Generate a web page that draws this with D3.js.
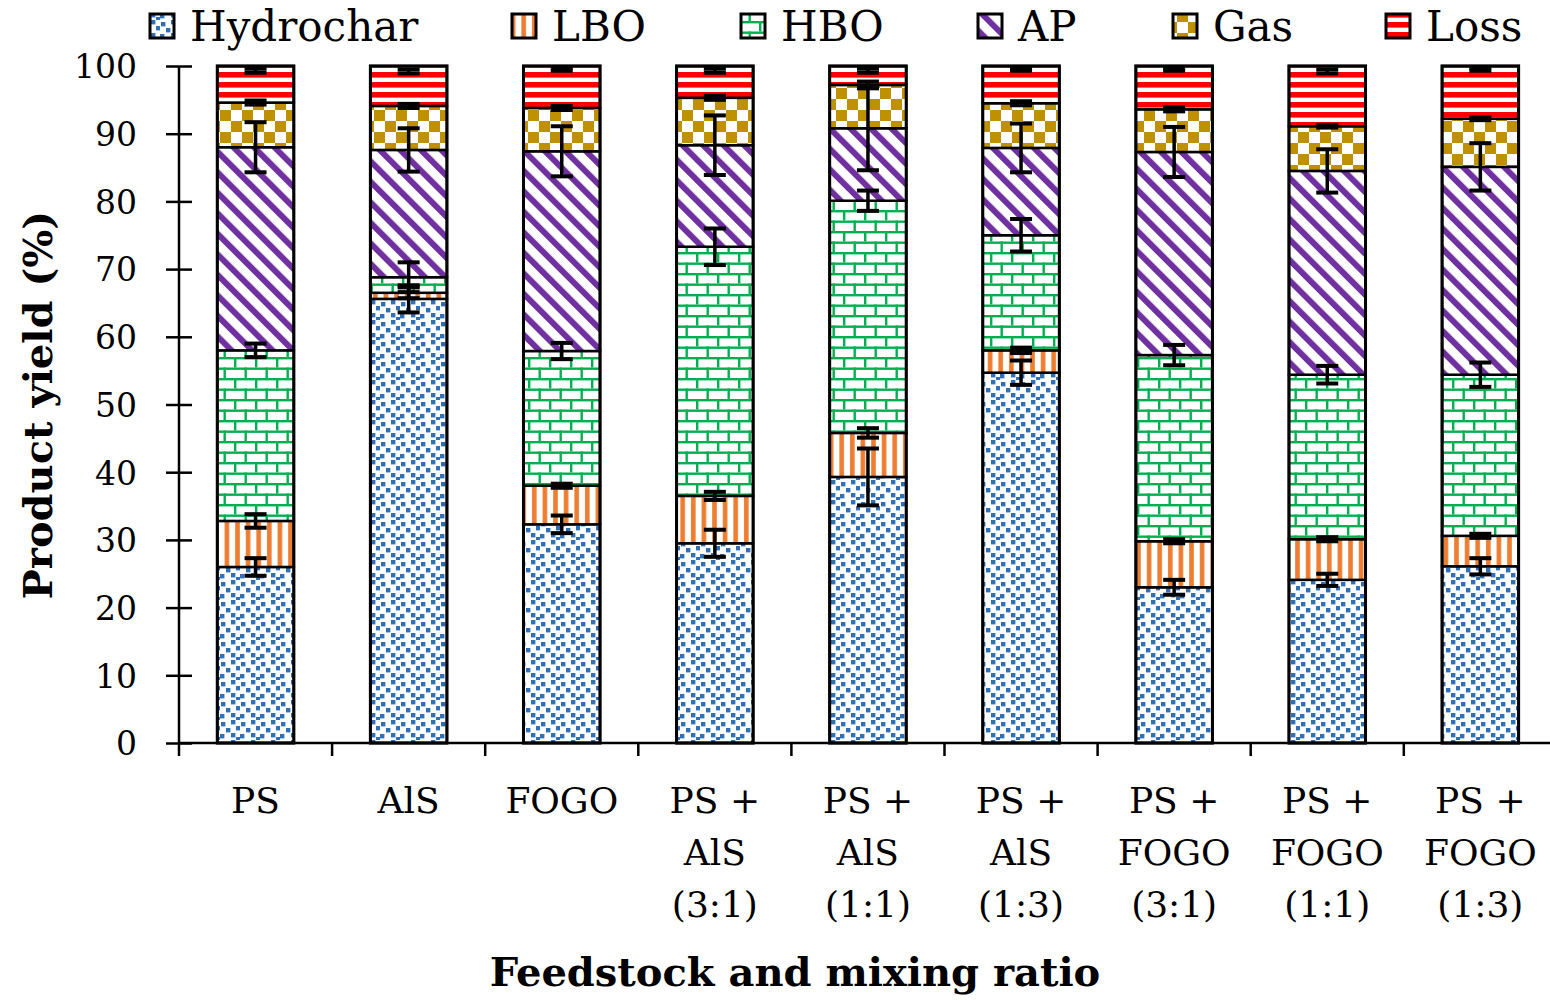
<!DOCTYPE html>
<html><head><meta charset="utf-8">
<script src="https://cdn.jsdelivr.net/npm/d3@7"></script>
<style>
html,body{margin:0;padding:0;background:#fff;}
text{font-family:"DejaVu Serif",serif;fill:#000;}
</style></head><body>
<svg id="chart" width="1550" height="1000"></svg>
<script>
const categories = [["PS"],["AlS"],["FOGO"],["PS +","AlS","(3:1)"],["PS +","AlS","(1:1)"],["PS +","AlS","(1:3)"],["PS +","FOGO","(3:1)"],["PS +","FOGO","(1:1)"],["PS +","FOGO","(1:3)"]];
const seriesNames = ["Hydrochar","LBO","HBO","AP","Gas","Loss"];
const hydrochar = [26.0, 65.6, 32.3, 29.5, 39.3, 54.7, 23.0, 24.1, 26.1];
const lbo       = [6.8, 0.9, 5.7, 7.0, 6.5, 3.3, 6.8, 6.0, 4.5];
const hbo       = [25.2, 2.3, 19.9, 36.8, 34.3, 17.0, 27.5, 24.3, 23.8];
const ap        = [30.0, 18.8, 29.5, 15.0, 10.7, 12.9, 30.0, 30.1, 30.7];
const gas       = [6.6, 6.5, 6.4, 7.0, 6.4, 6.6, 6.3, 6.6, 7.1];
const loss      = [5.4, 5.9, 6.2, 4.7, 2.8, 5.5, 6.4, 8.9, 7.8];
const errHydrochar = [1.3, 2.0, 1.3, 2.0, 4.2, 1.8, 1.1, 0.9, 1.2];
const errLbo       = [1.0, 0.8, 0.3, 0.6, 0.7, 0.4, 0.3, 0.3, 0.3];
const errHbo       = [1.0, 2.2, 1.2, 2.7, 1.5, 2.4, 1.5, 1.3, 1.8];
const errAp        = [3.7, 3.2, 3.7, 4.4, 6.2, 3.6, 3.7, 3.2, 3.5];
const errGas       = [0.3, 0.3, 0.3, 0.3, 0.5, 0.3, 0.3, 0.2, 0.2];
const errLoss      = [0.3, 0.3, 0.2, 0.3, 0.3, 0.2, 0.2, 0.3, 0.2];
const lossErrCenter = [99.3, 99.2, 99.5, 99.3, 99.3, 99.5, 99.5, 99.2, 99.5];
const yTicks = [0,10,20,30,40,50,60,70,80,90,100];

const values = [hydrochar, lbo, hbo, ap, gas, loss];
const errs = [errHydrochar, errLbo, errHbo, errAp, errGas, errLoss];

const svg = d3.select("#chart");
const x0 = 179, xEnd = 1550, yTop = 66, yBot = 743;
const stepPx = 153.1;
const x = d3.scaleBand().domain(d3.range(categories.length)).range([x0, x0 + stepPx * categories.length]).paddingInner(0.5).paddingOuter(0.25);
const y = d3.scaleLinear().domain([0, 100]).range([yBot, yTop]);

// patterns
const defs = svg.append("defs");
function pat(id, w, h, build, transform) {
  const p = defs.append("pattern").attr("id", id).attr("patternUnits", "userSpaceOnUse")
    .attr("width", w).attr("height", h);
  if (transform) p.attr("patternTransform", transform);
  p.append("rect").attr("width", w).attr("height", h).attr("fill", "#fff");
  build(p);
}
pat("p0", 20, 20, p => {
  const pts = [[1,2],[11,0],[16,6],[6,8],[0,14],[11,13],[16,17]];
  pts.forEach(([a,b]) => p.append("rect").attr("x", a).attr("y", b).attr("width", 4.4).attr("height", 4.4).attr("fill", "#2f70b8"));
});
pat("p1", 10.6, 10, p => p.append("rect").attr("x", 2).attr("width", 4.6).attr("height", 10).attr("fill", "#ed7d31"));
pat("p2", 21, 21, p => {
  const c = "#00b050";
  p.append("rect").attr("y", 0).attr("width", 21).attr("height", 2.4).attr("fill", c);
  p.append("rect").attr("y", 10.5).attr("width", 21).attr("height", 2.4).attr("fill", c);
  p.append("rect").attr("x", 3).attr("y", 0).attr("width", 2.4).attr("height", 10.5).attr("fill", c);
  p.append("rect").attr("x", 13.5).attr("y", 10.5).attr("width", 2.4).attr("height", 10.5).attr("fill", c);
});
pat("p3", 14.5, 14.5, p => p.append("rect").attr("width", 6).attr("height", 14.5).attr("fill", "#7030a0"), "rotate(-45)");
pat("p4", 22, 22, p => {
  p.append("rect").attr("width", 11).attr("height", 11).attr("fill", "#bf9000");
  p.append("rect").attr("x", 11).attr("y", 11).attr("width", 11).attr("height", 11).attr("fill", "#bf9000");
});
pat("p5", 10, 10, p => p.append("rect").attr("y", 2).attr("width", 10).attr("height", 5.6).attr("fill", "#ff0000"));

// stack
const stackData = categories.map((c, i) => {
  const o = {i};
  seriesNames.forEach((s, k) => o[s] = values[k][i]);
  return o;
});
const stacked = d3.stack().keys(seriesNames)(stackData);

const g = svg.append("g");
stacked.forEach((layer, k) => {
  g.selectAll(null).data(layer).enter().append("rect")
    .attr("x", d => x(d.data.i))
    .attr("width", x.bandwidth())
    .attr("y", d => y(Math.min(100, d[1])))
    .attr("height", d => y(d[0]) - y(Math.min(100, d[1])))
    .attr("fill", `url(#p${k})`)
    .attr("stroke", "#000").attr("stroke-width", 2.5);
});
g.selectAll(null).data(stackData).enter().append("rect")
  .attr("x", d => x(d.i)).attr("width", x.bandwidth())
  .attr("y", y(100)).attr("height", y(0) - y(100))
  .attr("fill", "none").attr("stroke", "#000").attr("stroke-width", 3);

// error bars
const eb = svg.append("g");
stacked.forEach((layer, k) => {
  layer.forEach((d, i) => {
    const c = k === 5 ? lossErrCenter[i] : d[1];
    const e = errs[k][i];
    const cx = x(i) + x.bandwidth() / 2;
    const lo = y(c - e), hi = y(Math.min(100, c + e));
    eb.append("line").attr("x1", cx).attr("x2", cx).attr("y1", hi).attr("y2", lo).attr("stroke", "#000").attr("stroke-width", 3.5);
    eb.append("line").attr("x1", cx - 11).attr("x2", cx + 11).attr("y1", hi).attr("y2", hi).attr("stroke", "#000").attr("stroke-width", 4);
    eb.append("line").attr("x1", cx - 11).attr("x2", cx + 11).attr("y1", lo).attr("y2", lo).attr("stroke", "#000").attr("stroke-width", 4);
  });
});

// y axis
const ya = svg.append("g").attr("transform", `translate(${x0},0)`)
  .call(d3.axisLeft(y).tickValues(yTicks).tickSize(0).tickPadding(0));
ya.select(".domain").remove();
ya.selectAll(".tick text").attr("x", -42).attr("dy", "0.36em").style("font-size", "33px").style("font-family", "DejaVu Serif");
ya.append("line").attr("x1", 0).attr("x2", 0).attr("y1", y(0)).attr("y2", y(100)).attr("stroke", "#000").attr("stroke-width", 2.5);
ya.selectAll(".tick").append("line").attr("x1", -13).attr("x2", 13).attr("stroke", "#000").attr("stroke-width", 2.5);

// x axis
const xa = svg.append("g");
xa.append("line").attr("x1", x0).attr("x2", xEnd).attr("y1", yBot).attr("y2", yBot).attr("stroke", "#000").attr("stroke-width", 2.5);
d3.range(categories.length).forEach(i => {
  const bx = x0 + i * x.step();
  xa.append("line").attr("x1", bx).attr("x2", bx).attr("y1", yBot).attr("y2", yBot + 13).attr("stroke", "#000").attr("stroke-width", 2.5);
});
categories.forEach((lines, i) => {
  const t = xa.append("text").attr("text-anchor", "middle").style("font-size", "36px")
    .attr("transform", `translate(${x(i) + x.bandwidth() / 2},0)`);
  lines.forEach((ln, j) => t.append("tspan").attr("x", 0).attr("y", 813 + j * 52).text(ln));
});

// titles
svg.append("text").attr("x", 795).attr("y", 986).attr("text-anchor", "middle")
  .style("font-size", "40px").style("font-weight", "bold").text("Feedstock and mixing ratio");
svg.append("text").attr("transform", "translate(52,405) rotate(-90)").attr("text-anchor", "middle")
  .style("font-size", "40px").style("font-weight", "bold").text("Product yield (%)");

// legend
const legX = [150, 512, 741, 978, 1173, 1386];
const lg = svg.append("g");
seriesNames.forEach((s, k) => {
  lg.append("rect").attr("x", legX[k]).attr("y", 14).attr("width", 24).attr("height", 24)
    .attr("fill", `url(#p${k})`).attr("stroke", "#000").attr("stroke-width", 3);
  lg.append("text").attr("x", legX[k] + 40).attr("y", 41).style("font-size", "42px").text(s);
});
</script>
</body></html>
